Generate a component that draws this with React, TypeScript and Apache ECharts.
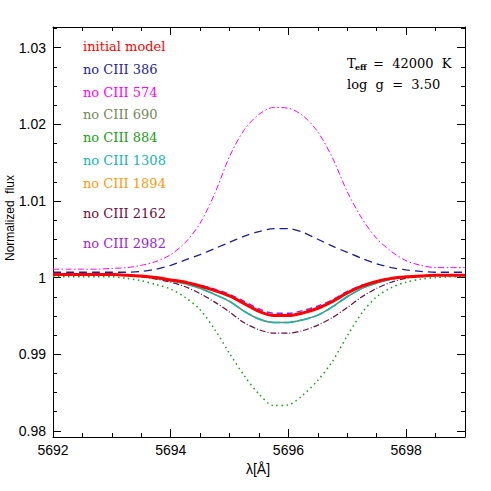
import React, { useEffect, useRef } from "react";
import * as echarts from "echarts";

const XS = [5692, 5692.25, 5692.5, 5692.75, 5693, 5693.25, 5693.5, 5693.75, 5694, 5694.25, 5694.5, 5694.75, 5695, 5695.25, 5695.5, 5695.75, 5696, 5696.25, 5696.5, 5696.75, 5697, 5697.25, 5697.5, 5697.75, 5698, 5698.25, 5698.5, 5698.75, 5699];

const INITIAL = [1.0004, 1.0004, 1.0004, 1.0004, 1.0004, 1.0003, 1.0002, 1.0, 0.9997, 0.9994, 0.9989, 0.9983, 0.9976, 0.9966, 0.9956, 0.99505, 0.99505, 0.9954, 0.996, 0.9969, 0.998, 0.9989, 0.9995, 0.9999, 1.0001, 1.0002, 1.0003, 1.0003, 1.0003];
const NO386 = [1.0007, 1.0007, 1.0007, 1.0007, 1.0007, 1.0007, 1.0008, 1.0011, 1.0016, 1.0023, 1.003, 1.0038, 1.0046, 1.0054, 1.006, 1.0064, 1.0064, 1.0059, 1.005, 1.0041, 1.0033, 1.0025, 1.0018, 1.0013, 1.001, 1.0008, 1.0007, 1.0007, 1.0007];
const NO574 = [1.0011, 1.0011, 1.0011, 1.0011, 1.0012, 1.0013, 1.0016, 1.0021, 1.003, 1.0046, 1.0071, 1.011, 1.0158, 1.0193, 1.0213, 1.0222, 1.0221, 1.0211, 1.019, 1.0156, 1.0112, 1.0077, 1.0051, 1.0034, 1.0022, 1.0016, 1.0013, 1.0013, 1.0013];
const NO690 = [1.0004, 1.0004, 1.0004, 1.0004, 1.0004, 1.0003, 1.0002, 0.9999, 0.9996, 0.9992, 0.9986, 0.9978, 0.9969, 0.9956, 0.9946, 0.99415, 0.99415, 0.9945, 0.9951, 0.9962, 0.9975, 0.9986, 0.9993, 0.9998, 1.0001, 1.0002, 1.0003, 1.0003, 1.0003];
const NO884 = [1.0001, 1.0001, 1.0001, 1.0001, 1.0001, 0.9999, 0.9996, 0.9991, 0.9985, 0.9974, 0.9958, 0.9932, 0.9901, 0.9872, 0.9848, 0.9833, 0.9834, 0.9847, 0.9866, 0.9891, 0.9924, 0.9954, 0.9975, 0.9987, 0.9994, 0.9998, 1.0, 1.0001, 1.0001];
const NO1308 = [1.0004, 1.0004, 1.0004, 1.0004, 1.0004, 1.0003, 1.0002, 0.9999, 0.9996, 0.9992, 0.9986, 0.9978, 0.9969, 0.9956, 0.9946, 0.99415, 0.99415, 0.9945, 0.9951, 0.9962, 0.9975, 0.9986, 0.9993, 0.9998, 1.0001, 1.0002, 1.0003, 1.0003, 1.0003];
const NO1894 = [1.0004, 1.0004, 1.0004, 1.0004, 1.0004, 1.0003, 1.0002, 1.0, 0.9997, 0.9994, 0.9989, 0.9983, 0.9976, 0.9966, 0.9956, 0.99505, 0.99505, 0.9954, 0.996, 0.9969, 0.998, 0.9989, 0.9995, 0.9999, 1.0001, 1.0002, 1.0003, 1.0003, 1.0003];
const NO2162 = [1.0004, 1.0004, 1.0004, 1.0004, 1.0004, 1.0003, 1.0001, 0.9998, 0.9994, 0.9988, 0.9979, 0.9968, 0.9955, 0.9941, 0.9932, 0.99275, 0.99275, 0.9931, 0.9938, 0.9948, 0.9961, 0.9975, 0.9986, 0.9994, 0.9999, 1.0001, 1.0003, 1.0003, 1.0003];
const NO2982 = [1.0004, 1.0004, 1.0004, 1.0004, 1.0004, 1.0003, 1.0002, 1.0, 0.9997, 0.9994, 0.999, 0.9985, 0.9978, 0.9969, 0.9959, 0.99535, 0.99535, 0.9957, 0.9963, 0.9971, 0.9982, 0.999, 0.9995, 0.9999, 1.0001, 1.0002, 1.0003, 1.0003, 1.0003];

const LEGEND_LABELS = ["initial model", "no CIII 386", "no CIII 574", "no CIII 690", "no CIII 884", "no CIII 1308", "no CIII 1894", "no CIII 2162", "no CIII 2982"];
const LEGEND_Y = [46, 69, 92, 114, 137, 160, 183, 213, 243];

const COLORS = {
  initial: "#ff0000",
  n386: "#1e1e9a",
  n574: "#ff00ff",
  n690: "#73895a",
  n884: "#17a017",
  n1308: "#14b4b4",
  n1894: "#ff9910",
  n2162: "#6c0c3c",
  n2982: "#9a1ee0",
};

const LEGEND_COLORS = [COLORS.initial, COLORS.n386, COLORS.n574, COLORS.n690, COLORS.n884, COLORS.n1308, COLORS.n1894, COLORS.n2162, COLORS.n2982];

const SERIF = "DejaVu Serif";
const SANS = "Liberation Sans";

function pts(ys: number[]) {
  return XS.map((x, i) => [x, ys[i]]);
}

function mkLine(name: string, ys: number[], color: string, width: number, type: any, z: number) {
  return {
    name,
    type: "line",
    xAxisIndex: 0,
    yAxisIndex: 0,
    data: pts(ys),
    showSymbol: false,
    symbol: "none",
    smooth: 0.3,
    z,
    lineStyle: { color, width, type, cap: "butt" },
  };
}

export default function App() {
  const ref = useRef<HTMLDivElement>(null);
  useEffect(() => {
    if (!ref.current) return;
    const chart = echarts.init(ref.current, null, { renderer: "svg" });
    const tickStyle = { color: "#000", width: 1 };
    const lineOn = { show: true, onZero: false, lineStyle: { color: "#000", width: 1 } };
    const lineOff = { show: false, onZero: false };
    const yFmt = (v: number) => (Math.abs(v - 1) < 1e-9 ? "1" : String(+v.toFixed(2)));
    const option: any = {
      animation: false,
      backgroundColor: "#fff",
      grid: [
        { left: 53, right: 26, top: 27, bottom: 54 },
        { left: 53, right: 26, top: 27, bottom: 54 },
        { left: 53, right: 26, top: 28.53, bottom: 60.13 },
      ],
      xAxis: [
        {
          gridIndex: 0, type: "value", position: "bottom", min: 5692, max: 5699, interval: 2,
          axisLine: lineOn, axisTick: { show: true, inside: true, length: 8, lineStyle: tickStyle },
          axisLabel: { show: true, color: "#000", fontFamily: SANS, fontSize: 14, margin: 6, showMaxLabel: false, formatter: (v: number) => String(v) },
          splitLine: { show: false },
        },
        {
          gridIndex: 0, type: "value", position: "top", min: 5692, max: 5699, interval: 2,
          axisLine: lineOn, axisTick: { show: true, inside: true, length: 8, lineStyle: tickStyle },
          axisLabel: { show: false }, splitLine: { show: false },
        },
        {
          gridIndex: 1, type: "value", position: "bottom", min: 5692, max: 5699, interval: 0.5,
          axisLine: lineOff, axisTick: { show: true, inside: true, length: 4, lineStyle: tickStyle },
          axisLabel: { show: false }, splitLine: { show: false },
        },
        {
          gridIndex: 1, type: "value", position: "top", min: 5692, max: 5699, interval: 0.5,
          axisLine: lineOff, axisTick: { show: true, inside: true, length: 4, lineStyle: tickStyle },
          axisLabel: { show: false }, splitLine: { show: false },
        },
        { gridIndex: 2, type: "value", min: 0, max: 1, show: false },
      ],
      yAxis: [
        {
          gridIndex: 0, type: "value", position: "left", min: 0.9792, max: 1.0327, splitNumber: 5,
          axisLine: lineOn, axisTick: { show: true, inside: true, length: 8, lineStyle: tickStyle },
          axisLabel: { show: true, color: "#000", fontFamily: SANS, fontSize: 14, margin: 7, showMinLabel: false, showMaxLabel: false, formatter: yFmt },
          splitLine: { show: false },
        },
        {
          gridIndex: 0, type: "value", position: "right", min: 0.9792, max: 1.0327, splitNumber: 5,
          axisLine: lineOn, axisTick: { show: true, inside: true, length: 8, lineStyle: tickStyle },
          axisLabel: { show: false }, splitLine: { show: false },
        },
        { gridIndex: 1, type: "value", min: 0, max: 1, show: false },
        {
          gridIndex: 2, type: "value", position: "left", min: 0.98, max: 1.0325, interval: 0.0025,
          axisLine: lineOff, axisTick: { show: true, inside: true, length: 4, lineStyle: tickStyle },
          axisLabel: { show: false }, splitLine: { show: false },
        },
        {
          gridIndex: 2, type: "value", position: "right", min: 0.98, max: 1.0325, interval: 0.0025,
          axisLine: lineOff, axisTick: { show: true, inside: true, length: 4, lineStyle: tickStyle },
          axisLabel: { show: false }, splitLine: { show: false },
        },
      ],
      series: [
        mkLine("no CIII 690", NO690, COLORS.n690, 1.5, "solid", 2),
        mkLine("no CIII 1894", NO1894, COLORS.n1894, 1.2, "solid", 2),
        mkLine("no CIII 1308", NO1308, COLORS.n1308, 1.5, [12, 3], 3),
        mkLine("no CIII 2162", NO2162, COLORS.n2162, 1.2, [6, 2, 1, 2], 3),
        mkLine("no CIII 884", NO884, COLORS.n884, 1.5, [1.5, 3.5], 3),
        mkLine("no CIII 386", NO386, COLORS.n386, 1.3, [8, 5], 3),
        mkLine("no CIII 574", NO574, COLORS.n574, 1, [6, 2.5, 1.5, 2.5], 3),
        mkLine("no CIII 2982", NO2982, COLORS.n2982, 1.5, [6, 4], 4),
        mkLine("initial model", INITIAL, COLORS.initial, 3, "solid", 5),
      ],
      graphic: [
        ...LEGEND_LABELS.map((t, i) => ({
          type: "text", x: 83, y: LEGEND_Y[i], z: 10,
          style: { text: t, fill: LEGEND_COLORS[i], font: `13px "${SERIF}"`, textAlign: "left", textVerticalAlign: "middle" },
        })),
        { type: "text", x: 347, y: 63, z: 10, style: { text: "T", fill: "#000", font: `13px "${SERIF}"`, textAlign: "left", textVerticalAlign: "middle" } },
        { type: "text", x: 355, y: 67, z: 10, style: { text: "eff", fill: "#000", font: `bold 8px "${SERIF}"`, textAlign: "left", textVerticalAlign: "middle" } },
        { type: "text", x: 373, y: 63, z: 10, style: { text: "=  42000  K", fill: "#000", font: `13px "${SERIF}"`, textAlign: "left", textVerticalAlign: "middle" } },
        { type: "text", x: 347, y: 84, z: 10, style: { text: "log  g  =  3.50", fill: "#000", font: `13px "${SERIF}"`, textAlign: "left", textVerticalAlign: "middle" } },
        { type: "text", x: 10, y: 218, rotation: Math.PI / 2, z: 10, style: { text: "Normalized  flux", fill: "#000", font: `12px "${SANS}"`, textAlign: "center", textVerticalAlign: "middle" } },
        { type: "text", x: 258, y: 469, z: 10, style: { text: "λ[Å]", fill: "#000", font: `14px "${SANS}"`, textAlign: "center", textVerticalAlign: "middle" } },
      ],
    };
    chart.setOption(option);
    return () => chart.dispose();
  }, []);
  return <div ref={ref} style={{ width: 491, height: 491, position: "absolute", left: 0, top: 0 }} />;
}
